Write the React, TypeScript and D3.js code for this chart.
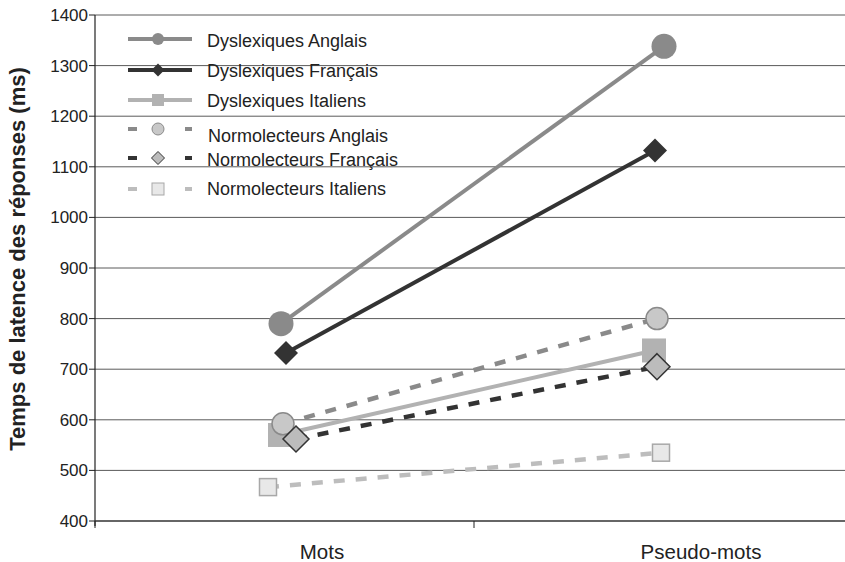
import React from "react";
import * as d3 from "d3";

const categories = ["Mots", "Pseudo-mots"];
const seriesNames = [
  "Dyslexiques Anglais",
  "Dyslexiques Français",
  "Dyslexiques Italiens",
  "Normolecteurs Anglais",
  "Normolecteurs Français",
  "Normolecteurs Italiens",
];
const dysAnglais = [790, 1338];
const dysFrancais = [732, 1132];
const dysItaliens = [570, 737];
const normoAnglais = [592, 800];
const normoFrancais = [562, 705];
const normoItaliens = [467, 535];
const yTicks = [400, 500, 600, 700, 800, 900, 1000, 1100, 1200, 1300, 1400];

// styles
const strokes = ["#8a8a8a", "#333333", "#b2b2b2", "#8a8a8a", "#333333", "#bdbdbd"];
const fills = ["#8a8a8a", "#333333", "#b2b2b2", "#c8c8c8", "#bcbcbc", "#e8e8e8"];
const markerStroke = ["#8a8a8a", "#333333", "#b2b2b2", "#8a8a8a", "#333333", "#a8a8a8"];
const shapes = ["circle", "diamond", "square", "circle", "diamond", "square"];
const sizes = [12.5, 12, 12, 11, 13, 8.5];
const dashed = [false, false, false, true, true, true];
// small horizontal dodge per series (px) at each category
const dodgeMots = [-3.5, 1.5, -4.5, -1.5, 11.5, -16.5];
const dodgePseudo = [0.5, -8.5, -9.5, -6.5, -6.5, -2.5];
// legend layout
const legendMarkY = [39, 70, 100, 129, 158, 189];
const legendTextY = [47, 77, 107, 142, 166, 195];
const legendTextX = [207, 207, 207, 208, 207, 207];

const W = 845, H = 562;
const left = 95, top = 15, bottom = 521, right = 853;

function Marker({ shape, x, y, s, fill, stroke, sw }: any) {
  if (shape === "circle") return <circle cx={x} cy={y} r={s} fill={fill} stroke={stroke} strokeWidth={sw} />;
  if (shape === "diamond")
    return (
      <polygon
        points={`${x},${y - s} ${x + s},${y} ${x},${y + s} ${x - s},${y}`}
        fill={fill}
        stroke={stroke}
        strokeWidth={sw}
      />
    );
  return <rect x={x - s} y={y - s} width={2 * s} height={2 * s} fill={fill} stroke={stroke} strokeWidth={sw} />;
}

export default function App() {
  const data = [dysAnglais, dysFrancais, dysItaliens, normoAnglais, normoFrancais, normoItaliens];
  const y = d3.scaleLinear().domain([400, 1400]).range([bottom, top]);
  const x = d3.scaleBand().domain(categories).range([left, right]);
  const cx = (c: string) => (x(c) as number) + x.bandwidth() / 2;
  const line = d3.line<[number, number]>().x((d) => d[0]).y((d) => d[1]);
  const font = "'Liberation Sans', Arial, sans-serif";

  const pts = data.map((vals, i) => [
    [cx(categories[0]) + dodgeMots[i], y(vals[0])] as [number, number],
    [cx(categories[1]) + dodgePseudo[i], y(vals[1])] as [number, number],
  ]);

  return (
    <svg width={W} height={H} style={{ position: "absolute", left: 0, top: 0, background: "#fff" }} fontFamily={font}>
      <rect width={W} height={H} fill="#fff" />
      {yTicks.map((t) => (
        <g key={t}>
          {t > 400 && <line x1={left} x2={W} y1={y(t)} y2={y(t)} stroke="#5a5a5a" strokeWidth={1} />}
          <line x1={left - 6} x2={left} y1={y(t)} y2={y(t)} stroke="#222" strokeWidth={1} />
          <text x={left - 7} y={y(t) + 6} textAnchor="end" fontSize={17} fill="#222">
            {t}
          </text>
        </g>
      ))}
      <line x1={left} x2={left} y1={top} y2={bottom + 5} stroke="#222" strokeWidth={1.2} />
      <line x1={left} x2={W} y1={bottom} y2={bottom} stroke="#333" strokeWidth={1.5} />
      {categories.map((c) => (
        <line key={c} x1={x(c) as number} x2={x(c) as number} y1={bottom} y2={bottom + 7} stroke="#222" />
      ))}
      {categories.map((c) => (
        <text key={c} x={cx(c) + 37.5} y={559} textAnchor="middle" fontSize={20.5} fill="#222">
          {c}
        </text>
      ))}
      <text
        transform={`translate(25,259) rotate(-90)`}
        textAnchor="middle"
        fontSize={22}
        fontWeight="bold"
        fill="#222"
      >
        Temps de latence des réponses (ms)
      </text>

      {pts.map((p, i) => (
        <path
          key={i}
          d={line(p) as string}
          fill="none"
          stroke={strokes[i]}
          strokeWidth={dashed[i] ? 4.5 : 4}
          strokeDasharray={dashed[i] ? "11 11" : undefined}
        />
      ))}
      {pts.map((p, i) =>
        p.map((q, j) => (
          <Marker
            key={i + "-" + j}
            shape={shapes[i]}
            x={q[0]}
            y={q[1]}
            s={sizes[i]}
            fill={fills[i]}
            stroke={markerStroke[i]}
            sw={dashed[i] ? 1.5 : 0}
          />
        ))
      )}

      {seriesNames.map((n, i) => (
        <g key={n}>
          {dashed[i] ? (
            <>
              <line x1={128} x2={137} y1={legendMarkY[i]} y2={legendMarkY[i]} stroke={strokes[i]} strokeWidth={4} />
              <line x1={185} x2={192} y1={legendMarkY[i]} y2={legendMarkY[i]} stroke={strokes[i]} strokeWidth={4} />
            </>
          ) : (
            <line x1={128} x2={192} y1={legendMarkY[i]} y2={legendMarkY[i]} stroke={strokes[i]} strokeWidth={4} />
          )}
          <Marker
            shape={shapes[i]}
            x={158}
            y={legendMarkY[i]}
            s={shapes[i] === "circle" ? 6 : shapes[i] === "diamond" ? 6.5 : 6}
            fill={fills[i]}
            stroke={markerStroke[i]}
            sw={dashed[i] ? 1 : 0}
          />
          <text x={legendTextX[i]} y={legendTextY[i]} fontSize={18} fill="#222">
            {n}
          </text>
        </g>
      ))}
    </svg>
  );
}
